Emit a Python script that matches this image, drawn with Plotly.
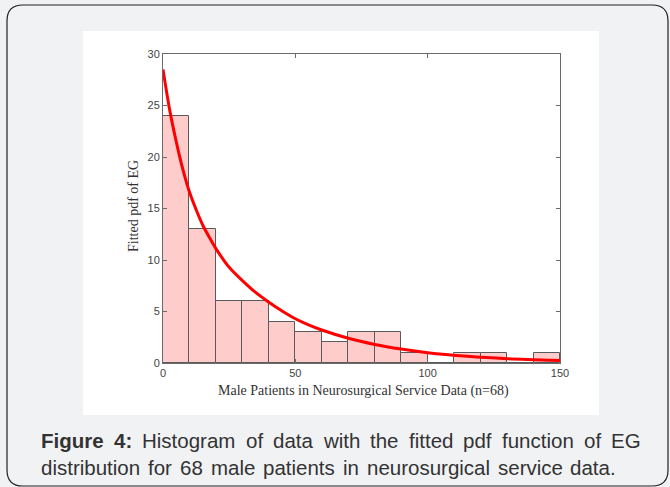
import plotly.graph_objects as go

# ---- data ----
bin_centers = [5, 15, 25, 35, 45, 55, 65, 75, 85, 95, 105, 115, 125, 135, 145]
counts = [24, 13, 6, 6, 4, 3, 2, 3, 3, 1, 0, 1, 1, 0, 1]
curve_x = [0, 2.5, 5, 7.5, 10, 12.5, 15, 17.5, 20, 22.5, 25, 30, 35, 40, 45, 50, 55, 60,
           70, 80, 90, 100, 115, 130, 150]
curve_y = [28.5, 24.6, 21.5, 18.8, 16.6, 14.9, 13.4, 12.2, 11.1, 10.15, 9.3, 8.0, 6.85,
           5.9, 5.05, 4.3, 3.7, 3.2, 2.4, 1.8, 1.35, 1.0, 0.65, 0.42, 0.25]
x_ticks = [0, 50, 100, 150]
y_ticks = [0, 5, 10, 15, 20, 25, 30]
caption_line1 = [("Figure", True), ("4:", True), ("Histogram", False), ("of", False),
                 ("data", False), ("with", False), ("the", False), ("fitted", False),
                 ("pdf", False), ("function", False), ("of", False), ("EG", False)]
caption_line2 = [("distribution", False), ("for", False), ("68", False), ("male", False),
                 ("patients", False), ("in", False), ("neurosurgical", False),
                 ("service", False), ("data.", False)]

W, H = 670, 487
L, R, T, B = 163, 560, 54, 363  # plot area pixel box


def px(x):
    return (x - L) / (R - L)


def py(y):
    return (B - y) / (B - T)


# Arial / Liberation Sans advance widths (1/1000 em)
REG = dict(a=556, b=556, c=500, d=556, e=556, f=278, g=556, h=556, i=222, l=222, m=833,
           n=556, o=556, p=556, r=333, s=500, t=278, u=556, v=500, w=722, y=500,
           E=667, G=778, H=722)
REG.update({"4": 556, "6": 556, "8": 556, ":": 278, ".": 278})
BOLD = dict(F=611, i=278, g=611, u=611, r=389, e=556)
BOLD.update({"4": 556, ":": 333})


def word_w(w, bold, size):
    tbl = BOLD if bold else REG
    return sum(tbl.get(ch, 556) for ch in w) * size / 1000.0


fig = go.Figure()
fig.add_trace(go.Bar(
    x=bin_centers, y=counts, width=10,
    marker=dict(color="#ffcccc", line=dict(color="#5a5a5a", width=1)),
    hoverinfo="skip",
))
fig.add_trace(go.Scatter(
    x=curve_x, y=curve_y, mode="lines",
    line=dict(color="#ff0000", width=3, shape="spline", smoothing=0.8),
    hoverinfo="skip",
))

# rounded outer border
x0, y0, x1, y1, r = 7, 5, 668, 486, 16
path = (
    f"M {px(x0 + r)},{py(y0)} L {px(x1 - r)},{py(y0)} "
    f"Q {px(x1)},{py(y0)} {px(x1)},{py(y0 + r)} "
    f"L {px(x1)},{py(y1 - r)} Q {px(x1)},{py(y1)} {px(x1 - r)},{py(y1)} "
    f"L {px(x0 + r)},{py(y1)} Q {px(x0)},{py(y1)} {px(x0)},{py(y1 - r)} "
    f"L {px(x0)},{py(y0 + r)} Q {px(x0)},{py(y0)} {px(x0 + r)},{py(y0)} Z"
)
shapes = [
    dict(type="path", xref="paper", yref="paper", path=path,
         fillcolor="#f1f2f4", line=dict(color="#222222", width=1.2), layer="below"),
    dict(type="rect", xref="paper", yref="paper",
         x0=px(83), x1=px(599), y0=py(415), y1=py(31),
         fillcolor="white", line=dict(width=0), layer="below"),
]

serif = "Liberation Serif, Times New Roman, serif"
sans = "Liberation Sans, Arial, sans-serif"
annotations = [
    dict(text="Male Patients in Neurosurgical Service Data (n=68)", xref="paper", yref="paper",
         x=px(363), y=py(391), showarrow=False, xanchor="center", yanchor="middle",
         font=dict(family=serif, size=14, color="#333333")),
    dict(text="Fitted pdf of EG", xref="paper", yref="paper", textangle=-90,
         x=px(133), y=py(206), showarrow=False, xanchor="center", yanchor="middle",
         font=dict(family=serif, size=14, color="#333333")),
]

CAP_SIZE = 20.5


def justify(words, left, right, ymid):
    widths = [word_w(w, b, CAP_SIZE) for w, b in words]
    gap = (right - left - sum(widths)) / (len(words) - 1)
    x = left
    for (w, b), ww in zip(words, widths):
        annotations.append(dict(
            text=f"<b>{w}</b>" if b else w, xref="paper", yref="paper",
            x=px(x), y=py(ymid), showarrow=False, xanchor="left", yanchor="middle",
            borderpad=0, font=dict(family=sans, size=CAP_SIZE, color="#333333")))
        x += ww + gap


justify(caption_line1, 40, 640, 441)
justify(caption_line2, 40, 615, 467)

axis_common = dict(
    showline=True, linecolor="#6a6a6a", linewidth=1, mirror="ticks",
    ticks="inside", ticklen=4, tickcolor="#6a6a6a", showgrid=False, zeroline=False,
    tickfont=dict(family=sans, size=11, color="#444444"),
)

fig.update_layout(
    width=W, height=H,
    margin=dict(l=L, r=W - R, t=T, b=H - B),
    paper_bgcolor="#f1f2f4", plot_bgcolor="white",
    showlegend=False, bargap=0,
    xaxis=dict(range=[0, 150], tickvals=x_ticks, **axis_common),
    yaxis=dict(range=[0, 30], tickvals=y_ticks, **axis_common),
    shapes=shapes, annotations=annotations,
)

fig.write_html("out.html")
